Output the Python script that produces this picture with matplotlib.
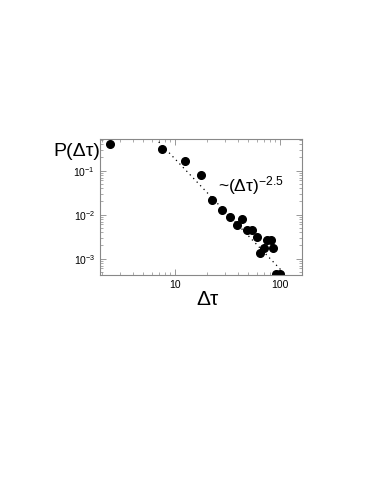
import numpy as np
from matplotlib import pyplot as plt

plt.rcParams['font.family'] = ['Liberation Sans', 'DejaVu Sans']
plt.rcParams['mathtext.fontset'] = 'custom'
plt.rcParams['mathtext.rm'] = 'Liberation Sans'
plt.rcParams['mathtext.it'] = 'Liberation Sans'

# data
dtau = [2.4, 7.5, 12.5, 17.7, 22.7, 28.0, 33.2, 38.7, 43.5, 48.8, 54.1,
        60.0, 64.5, 70.0, 75.7, 81.5, 85.7, 91.6, 101.0]
prob = [0.40, 0.306, 0.169, 0.0786, 0.0216, 0.0128, 0.0090, 0.0057, 0.0081,
        0.00456, 0.00456, 0.0031, 0.00134, 0.00178, 0.00266, 0.00266,
        0.00178, 0.00044, 0.00044]
fit_amp = 58.5
fit_exp = -2.5
fit_range = [7.0, 115.0]

fig = plt.figure(figsize=(3.74, 4.86), dpi=100)
ax = fig.add_axes([100 / 374, 1 - 275 / 486, 202 / 374, 136 / 486])

ax.plot(dtau, prob, 'o', color='black', ms=5.5)
xf = np.logspace(np.log10(fit_range[0]), np.log10(fit_range[1]), 60)
ax.plot(xf, fit_amp * xf ** fit_exp, linestyle=(0, (1, 3)), color='black', lw=0.9)

ax.set_xscale('log')
ax.set_yscale('log')
ax.set_xlim(1.93, 162)
ax.set_ylim(4.26e-4, 0.525)

ax.set_xticks([10, 100])
ax.set_xticklabels(['10', '100'])
ax.set_yticks([1e-1, 1e-2, 1e-3])
ax.set_yticklabels([r'10$^{\mathregular{-1}}$', r'10$^{\mathregular{-2}}$',
                    r'10$^{\mathregular{-3}}$'])
ax.tick_params(which='both', direction='in', top=True, right=True,
               color='#888888', labelsize=7.5)
ax.tick_params(which='major', length=4, width=0.6)
ax.tick_params(which='minor', length=2, width=0.5)
for s in ax.spines.values():
    s.set_color('#888888')
    s.set_linewidth(0.8)

ax.set_xlabel('Δτ', fontsize=15, labelpad=0)
ax.xaxis.set_label_coords(0.53, -0.11)
fig.text(53 / 374, 1 - 152 / 486, 'P(Δτ)', fontsize=14,
         va='center', ha='left')
ax.text(0.585, 0.66, r'~(Δτ)$^{\mathregular{-2.5}}$', transform=ax.transAxes,
        fontsize=12.5, va='center', ha='left')

fig.savefig('out.png', dpi=100)
